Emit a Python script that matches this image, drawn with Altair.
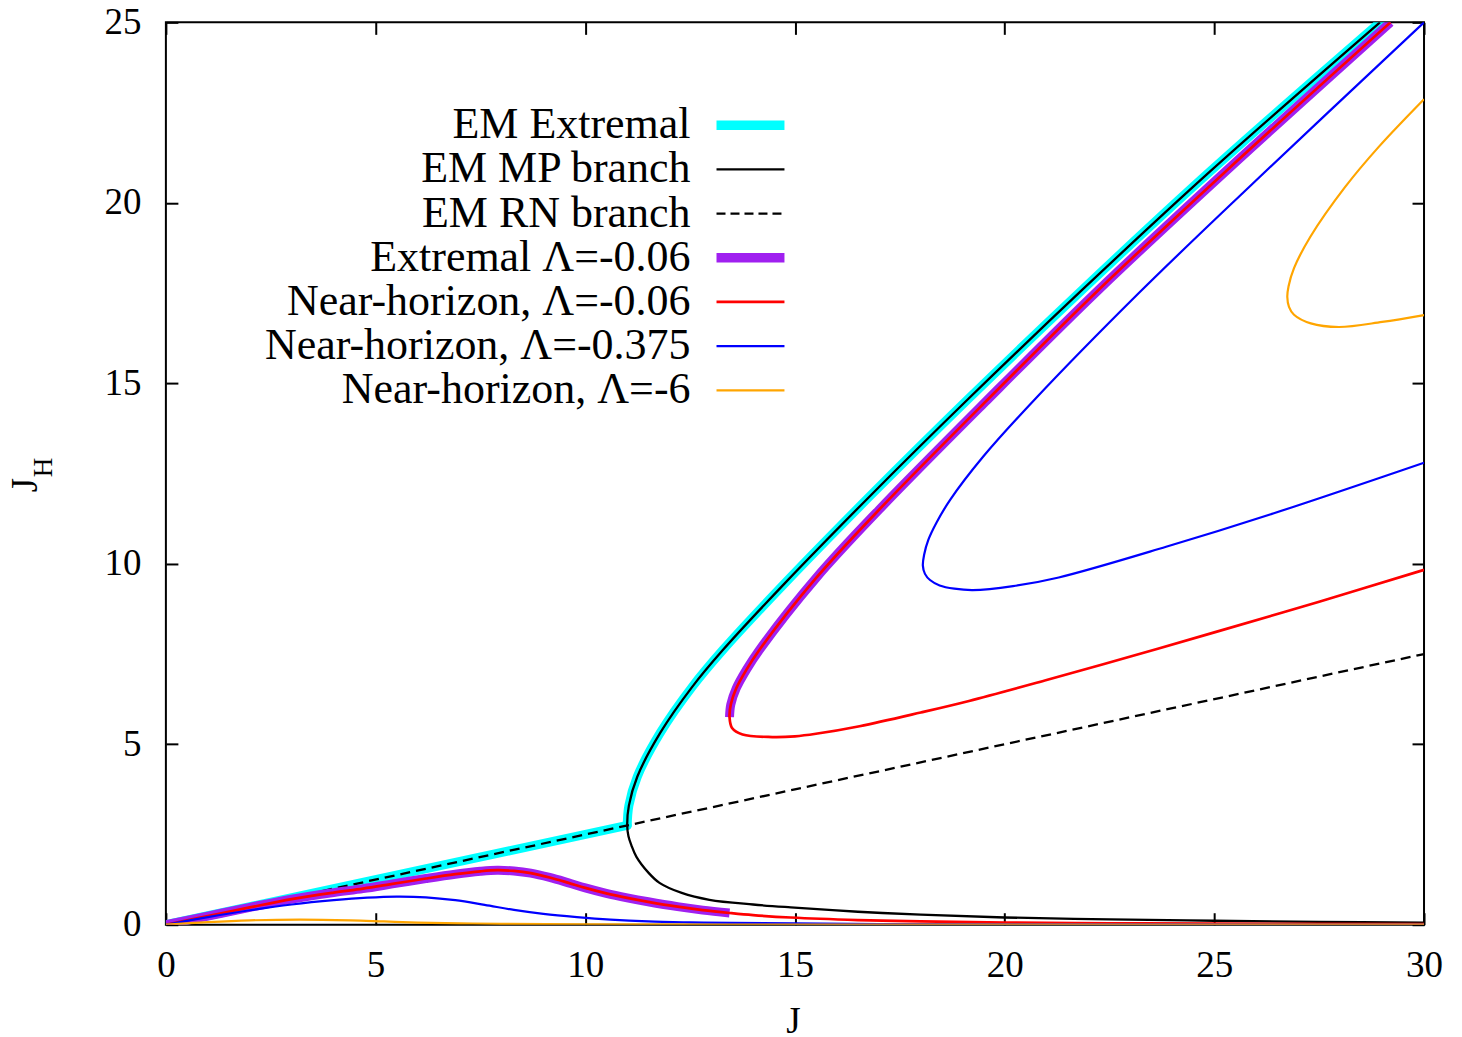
import altair as alt
import pandas as pd

FONT = "Liberation Serif"

# ---------------- data ----------------
x_ticks = [0, 5, 10, 15, 20, 25, 30]
y_ticks = [0, 5, 10, 15, 20, 25]

# EM extremal: RN-line part up to the junction
cyan_low_J = [0.0, 11.0]
cyan_low_JH = [0.0, 2.75]

# EM MP branch, upper part (top -> junction)
mp_up_J = [28.95, 24.88, 21.86, 19.1, 16.81, 14.75, 13.28, 12.55, 11.79, 11.24, 11.04, 11.0]
mp_up_JH = [25.0, 20.85, 17.6, 14.53, 11.9, 9.45, 7.61, 6.59, 5.32, 4.10, 3.3, 2.75]
# EM MP branch, lower part (junction -> right)
mp_low_J = [11.0, 11.03, 11.1, 11.22, 11.5, 11.77, 12.3, 12.96, 14.0, 14.9, 16.5, 18.0,
            20.0, 22.5, 25.0, 27.5, 30.0]
mp_low_JH = [2.75, 2.45, 2.2, 1.88, 1.45, 1.16, 0.88, 0.69, 0.56, 0.48, 0.36, 0.28,
             0.2, 0.15, 0.11, 0.08, 0.06]

# EM RN branch
rn_J = [0.0, 30.0]
rn_JH = [0.0, 7.5]

# Lambda = -0.06 : lower curve (origin -> right)
red_low_J = [0, 1, 2, 3, 4, 4.7, 5.4, 6.2, 6.9, 7.5, 7.9, 8.3, 8.7, 9.15, 9.6, 10.0,
             10.5, 11.0, 11.5, 12.2, 12.8, 13.44, 14.0, 14.9, 16.5, 18.0, 20.0, 22.5, 25.0, 30.0]
red_low_JH = [0, 0.24, 0.48, 0.71, 0.89, 1.0, 1.13, 1.28, 1.40, 1.48, 1.51, 1.49, 1.43, 1.31,
              1.16, 1.02, 0.87, 0.745, 0.635, 0.5, 0.405, 0.325, 0.265, 0.2, 0.13, 0.09, 0.06,
              0.04, 0.03, 0.015]
# Lambda = -0.06 : folded curve (top -> tip -> right)
red_up_J = [29.2, 25.25, 22.25, 19.58, 17.0, 15.5, 14.15, 13.84, 13.6, 13.47, 13.44,
            13.5, 13.75, 14.46, 15.0, 15.5, 16.54, 18.0, 19.15, 21.0, 23.0, 25.0, 27.5, 30.0]
red_up_JH = [25.0, 20.85, 17.6, 14.53, 11.49, 9.6, 7.61, 7.06, 6.55, 6.1, 5.75,
             5.45, 5.27, 5.2, 5.22, 5.29, 5.5, 5.88, 6.2, 6.78, 7.43, 8.1, 8.95, 9.83]
purple_low_n = 22   # extremal lower branch ends at J = 13.44
purple_up_n = 11    # extremal upper branch ends at the tip

# Lambda = -0.375
blue_low_J = [0, 1, 2, 3, 4, 4.8, 5.5, 6.2, 6.9, 7.6, 8.3, 9.0, 9.8, 10.6, 11.5, 12.5,
              13.5, 15, 17, 20, 24, 30]
blue_low_JH = [0, 0.21, 0.40, 0.56, 0.68, 0.75, 0.78, 0.76, 0.68, 0.55, 0.41, 0.30, 0.21,
               0.14, 0.09, 0.065, 0.05, 0.035, 0.02, 0.012, 0.007, 0.004]
blue_up_J = [30.0, 25.83, 23.2, 20.7, 19.49, 18.70, 18.38, 18.18, 18.08, 18.05, 18.1, 18.22,
             18.45, 18.8, 19.24, 20.2, 21.29, 23.85, 26.42, 30.0]
blue_up_JH = [25.0, 20.44, 17.5, 14.53, 12.97, 11.77, 11.15, 10.66, 10.25, 9.95, 9.72, 9.55,
              9.4, 9.31, 9.27, 9.38, 9.62, 10.47, 11.40, 12.8]

# Lambda = -6
orange_low_J = [0, 1, 2, 3.2, 4.4, 5.2, 6.0, 7.0, 8.0, 10, 13, 18, 30]
orange_low_JH = [0, 0.07, 0.12, 0.14, 0.12, 0.09, 0.06, 0.04, 0.025, 0.012, 0.006, 0.003, 0.001]
orange_up_J = [30.0, 28.92, 28.12, 27.29, 26.9, 26.77, 26.74, 26.78, 26.9, 27.3, 27.97, 29.0, 30.0]
orange_up_JH = [22.87, 21.55, 20.44, 19.06, 18.19, 17.69, 17.39, 17.12, 16.9, 16.66, 16.56, 16.70, 16.89]

legend_labels = ["EM Extremal", "EM MP branch", "EM RN branch", "Extremal \u039b=-0.06",
                 "Near-horizon, \u039b=-0.06", "Near-horizon, \u039b=-0.375", "Near-horizon, \u039b=-6"]

# ---------------- styles ----------------
CYAN, BLACK, PURPLE, RED, BLUE, ORANGE = "#00ffff", "#000000", "#a020f0", "#ff0000", "#0000ff", "#ffa500"
styles = [
    dict(color=CYAN, strokeWidth=9),
    dict(color=BLACK, strokeWidth=2.3),
    dict(color=BLACK, strokeWidth=2.3, strokeDash=[10, 6]),
    dict(color=PURPLE, strokeWidth=9),
    dict(color=RED, strokeWidth=2.7),
    dict(color=BLUE, strokeWidth=2.2),
    dict(color=ORANGE, strokeWidth=2.2),
]

W, H = 1259, 903
xs = alt.Scale(domain=[0, 30], nice=False, zero=False)
ys = alt.Scale(domain=[0, 25], nice=False, zero=False)

common_axis = dict(offset=-12, tickSize=12, tickWidth=2, tickColor="black", domain=False,
                   grid=False, title=None, labelFont=FONT, labelFontSize=37, labelColor="black",
                   format="d", labelOverlap=False, labelFlush=False)
x_bottom = alt.Axis(orient="bottom", values=x_ticks, labelPadding=23, **common_axis)
y_left = alt.Axis(orient="left", values=y_ticks, labelPadding=25, **common_axis)
x_top = alt.Axis(orient="top", values=x_ticks, labels=False, **common_axis)
y_right = alt.Axis(orient="right", values=y_ticks, labels=False, **common_axis)


def frame(segments):
    rows = []
    for s, (js, hs) in enumerate(segments):
        for i, (j, h) in enumerate(zip(js, hs)):
            rows.append({"seg": s, "i": i, "J": j, "JH": h})
    return pd.DataFrame(rows)


def line_layer(segments, style, interp="catmull-rom", cap="butt", xaxis=None, yaxis=None):
    mk = dict(style)
    mk.update(interpolate=interp, clip=True, strokeCap=cap, strokeJoin="round")
    return alt.Chart(frame(segments)).mark_line(**mk).encode(
        x=alt.X("J:Q", scale=xs, axis=xaxis),
        y=alt.Y("JH:Q", scale=ys, axis=yaxis),
        detail="seg:N",
        order="i:Q",
    )


layers = [
    line_layer([(cyan_low_J, cyan_low_JH), (mp_up_J, mp_up_JH)], styles[0], cap="round",
               xaxis=x_bottom, yaxis=y_left),
    line_layer([(mp_up_J + mp_low_J[1:], mp_up_JH + mp_low_JH[1:])], styles[1]),
    line_layer([(rn_J, rn_JH)], styles[2], interp="linear", xaxis=x_top, yaxis=y_right),
    line_layer([(red_low_J[:purple_low_n], red_low_JH[:purple_low_n]),
                (red_up_J[:purple_up_n], red_up_JH[:purple_up_n])], styles[3]),
    line_layer([(red_low_J, red_low_JH), (red_up_J, red_up_JH)], styles[4]),
    line_layer([(blue_low_J, blue_low_JH), (blue_up_J, blue_up_JH)], styles[5]),
    line_layer([(orange_low_J, orange_low_JH), (orange_up_J, orange_up_JH)], styles[6]),
]

one = pd.DataFrame({"k": [0]})

# legend (text right-aligned, sample line on the right)
row0, row_step = 103, 44.2
for k, (lab, st) in enumerate(zip(legend_labels, styles)):
    ry = row0 + k * row_step
    layers.append(alt.Chart(one).mark_text(text=lab, font=FONT, fontSize=44, align="right",
                                           baseline="middle", color="black")
                  .encode(x=alt.value(525), y=alt.value(ry)))
    rs = dict(color=st["color"], strokeWidth=st["strokeWidth"] if st["strokeWidth"] < 5 else 9.5)
    if "strokeDash" in st:
        rs["strokeDash"] = [9, 5]
    layers.append(alt.Chart(one).mark_rule(**rs)
                  .encode(x=alt.value(551), x2=alt.value(619), y=alt.value(ry)))

# axis titles
layers.append(alt.Chart(one).mark_text(text="J", font=FONT, fontSize=37, align="center",
                                       baseline="alphabetic", color="black")
              .encode(x=alt.value(628), y=alt.value(1011)))
layers.append(alt.Chart(one).mark_text(text="J", font=FONT, fontSize=37, align="center",
                                       baseline="alphabetic", angle=270, color="black")
              .encode(x=alt.value(-129), y=alt.value(463)))
layers.append(alt.Chart(one).mark_text(text="H", font=FONT, fontSize=27, align="center",
                                       baseline="alphabetic", angle=270, color="black")
              .encode(x=alt.value(-114), y=alt.value(445.5)))

chart = alt.layer(*layers).properties(
    width=W, height=H,
    autosize=alt.AutoSizeParams(type="none"),
    padding={"left": 158, "top": 14, "right": 30, "bottom": 112},
).configure_view(stroke="black", strokeWidth=2)

chart.save("out.html", embed_options={"renderer": "svg", "actions": False})
